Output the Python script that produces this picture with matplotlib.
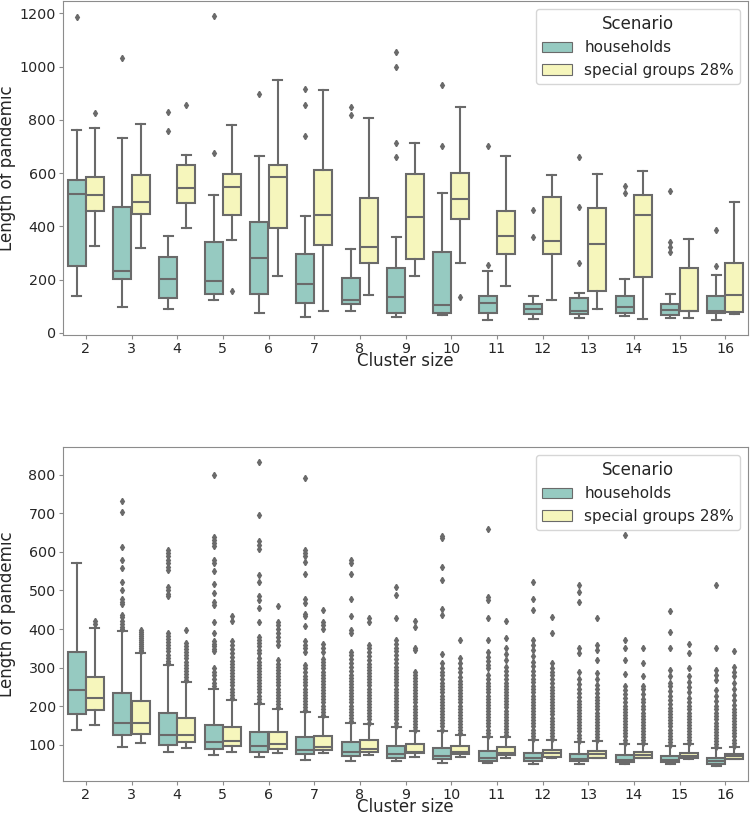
import colorsys
import matplotlib
matplotlib.use("Agg")
import matplotlib.pyplot as plt
import matplotlib.colors as mcolors
from matplotlib.patches import Patch

# ---------------- data ----------------
clusters = [2, 3, 4, 5, 6, 7, 8, 9, 10, 11, 12, 13, 14, 15, 16]
scenarios = ["households", "special groups 28%"]

# top panel -- households
top_hh_lo = [137, 96, 89, 122, 75, 59, 81, 61, 67, 49, 51, 55, 64, 55, 49]
top_hh_q1 = [252, 201, 130, 146, 147, 112, 107, 76, 74, 74, 71, 70, 76, 66, 76]
top_hh_med = [522, 232, 202, 195, 280, 184, 122, 136, 104, 112, 91, 82, 96, 85, 81]
top_hh_q3 = [574, 474, 285, 340, 415, 296, 207, 244, 302, 140, 107, 130, 137, 107, 137]
top_hh_hi = [760, 732, 364, 517, 664, 439, 316, 359, 526, 234, 140, 151, 202, 145, 217]
top_hh_fliers = [[1186], [1032], [829, 759], [1189, 676], [895], [917, 857, 741],
                 [847, 817], [1055, 997, 711, 661], [929, 702], [702, 255],
                 [460, 360], [662, 474, 261], [552, 527], [534, 342, 324, 305],
                 [386, 252]]

# top panel -- special groups 28%
top_sg_lo = [325, 317, 395, 350, 212, 81, 141, 215, 261, 175, 122, 89, 51, 57, 69]
top_sg_q1 = [456, 447, 487, 442, 392, 330, 261, 279, 429, 297, 295, 157, 209, 82, 77]
top_sg_med = [517, 491, 545, 547, 586, 442, 324, 436, 504, 364, 344, 335, 441, 83, 144]
top_sg_q3 = [584, 591, 632, 596, 630, 611, 507, 595, 602, 457, 510, 467, 517, 243, 261]
top_sg_hi = [770, 785, 666, 782, 949, 911, 806, 714, 847, 664, 591, 595, 607, 354, 492]
top_sg_fliers = [[826], [], [854], [157], [], [], [], [], [135], [], [], [], [], [], []]

# bottom panel -- households
bot_hh_lo = [139, 96, 81, 73, 69, 62, 59, 59, 54, 53, 52, 52, 52, 50, 46]
bot_hh_q1 = [181, 127, 100, 89, 83, 77, 72, 67, 64, 59, 59, 58, 55, 55, 52]
bot_hh_med = [242, 156, 126, 108, 97, 88, 81, 77, 72, 67, 67, 64, 62, 60, 58]
bot_hh_q3 = [341, 235, 182, 152, 133, 120, 108, 98, 92, 84, 79, 77, 73, 72, 67]
bot_hh_hi = [572, 396, 306, 245, 207, 185, 158, 147, 137, 120, 112, 108, 103, 97, 91]
bot_hh_fliers = [
    [],
    [731, 702, 612, 578, 558, 522, 500, 479, 471, 466, 437, 431, 422, 414, 405, 400],
    [605, 598, 590, 580, 570, 560, 553, 510, 500, 490, 485, 390, 382, 374, 366, 358,
     350, 342, 334, 326, 318, 312],
    [798, 638, 630, 622, 615, 578, 572, 551, 517, 493, 470, 463, 418, 390, 370, 362,
     355, 348, 342, 300, 290, 280, 270, 260, 252],
    [832, 694, 628, 618, 608, 540, 522, 485, 476, 454, 418, 212, 220, 228, 236, 244,
     252, 260, 268, 276, 284, 292, 300, 308, 316, 324, 338, 346, 355, 364, 372, 380],
    [790, 605, 598, 590, 573, 543, 478, 468, 440, 433, 407, 370, 360, 350, 340, 190,
     198, 206, 214, 222, 230, 238, 246, 254, 262, 270, 278, 290, 300, 308],
    [578, 572, 543, 478, 434, 398, 390, 162, 170, 178, 186, 194, 202, 210, 218, 226,
     234, 242, 250, 258, 266, 274, 282, 292, 302, 312, 322, 332, 340],
    [510, 489, 428, 150, 158, 166, 174, 182, 190, 198, 206, 214, 222, 230, 238, 246,
     254, 262, 270, 278, 286, 294, 302, 312, 322, 332, 342, 352, 362, 372],
    [642, 636, 560, 528, 452, 437, 336, 140, 148, 156, 164, 172, 180, 188, 196, 204,
     212, 220, 228, 236, 244, 252, 260, 270, 280, 290, 300, 312],
    [660, 484, 476, 429, 372, 124, 132, 140, 148, 156, 164, 172, 180, 188, 196, 204,
     212, 220, 228, 236, 244, 252, 260, 270, 280, 298, 308, 318, 328, 340],
    [521, 478, 450, 116, 124, 132, 140, 148, 156, 164, 172, 180, 188, 196, 204, 212,
     220, 228, 236, 244, 252, 262, 272, 282, 292, 305, 315, 330, 345, 360, 372],
    [515, 497, 470, 351, 338, 288, 111, 119, 127, 135, 143, 151, 159, 167, 175, 183,
     191, 199, 207, 215, 225, 235, 245, 258, 270],
    [644, 372, 351, 321, 284, 106, 114, 122, 130, 138, 146, 154, 162, 170, 178, 186,
     194, 202, 212, 222, 232, 242, 252],
    [447, 392, 350, 295, 278, 100, 108, 116, 124, 132, 140, 148, 156, 164, 172, 180,
     188, 196, 206, 216, 228, 240, 252, 260],
    [515, 350, 295, 282, 269, 94, 102, 110, 118, 126, 134, 142, 150, 158, 166, 174,
     182, 192, 202, 214, 228, 243],
]

# bottom panel -- special groups 28%
bot_sg_lo = [152, 104, 91, 83, 78, 78, 74, 70, 68, 67, 66, 66, 65, 64, 63]
bot_sg_q1 = [190, 129, 107, 97, 89, 86, 83, 79, 77, 73, 69, 67, 67, 65, 64]
bot_sg_med = [222, 156, 126, 111, 103, 96, 90, 83, 82, 79, 79, 77, 75, 72, 72]
bot_sg_q3 = [276, 213, 171, 146, 133, 122, 113, 102, 98, 95, 88, 85, 82, 80, 77]
bot_sg_hi = [402, 337, 262, 217, 193, 173, 154, 135, 126, 121, 112, 110, 102, 102, 96]
bot_sg_fliers = [
    [412, 420],
    [342, 347, 352, 357, 362, 367, 372, 377, 382, 387, 392, 397],
    [268, 276, 284, 292, 300, 308, 316, 324, 332, 340, 348, 356, 364, 397],
    [222, 230, 238, 246, 254, 262, 270, 278, 286, 294, 302, 310, 318, 328, 338, 348,
     358, 368, 420, 433],
    [198, 206, 214, 222, 230, 238, 246, 254, 262, 270, 278, 286, 294, 302, 310, 320,
     360, 370, 380, 390, 400, 410, 418, 461],
    [178, 186, 194, 202, 210, 218, 226, 234, 242, 250, 258, 266, 274, 282, 290, 298,
     306, 314, 322, 340, 350, 362, 400, 410, 418, 450],
    [158, 166, 174, 182, 190, 198, 206, 214, 222, 230, 238, 246, 254, 262, 270, 278,
     286, 294, 302, 310, 320, 330, 340, 350, 360, 418, 428],
    [138, 146, 154, 162, 170, 178, 186, 194, 202, 210, 218, 226, 234, 242, 250, 258,
     266, 274, 282, 290, 347, 351, 405, 420],
    [130, 138, 146, 154, 162, 170, 178, 186, 194, 202, 210, 218, 226, 234, 242, 250,
     258, 266, 276, 288, 300, 312, 325, 372],
    [125, 133, 141, 149, 157, 165, 173, 181, 189, 197, 205, 213, 221, 229, 237, 245,
     253, 261, 270, 280, 292, 303, 321, 335, 351, 377, 421],
    [115, 123, 131, 139, 147, 155, 163, 171, 179, 187, 195, 203, 211, 219, 227, 235,
     243, 251, 260, 270, 280, 290, 300, 312, 390, 431],
    [112, 120, 128, 136, 144, 152, 160, 168, 176, 184, 192, 200, 208, 216, 224, 234,
     244, 256, 270, 286, 321, 347, 358, 428],
    [104, 112, 120, 128, 136, 144, 152, 160, 168, 176, 184, 192, 200, 210, 220, 232,
     244, 252, 279, 312, 351],
    [104, 112, 120, 128, 136, 144, 152, 160, 168, 176, 184, 192, 200, 210, 222, 236,
     250, 264, 278, 299, 338, 361],
    [98, 106, 114, 122, 130, 138, 146, 154, 162, 170, 178, 186, 194, 204, 216, 230,
     244, 260, 278, 290, 303, 342],
]

top_yticks = [0, 200, 400, 600, 800, 1000, 1200]
bot_yticks = [100, 200, 300, 400, 500, 600, 700, 800]

# ---------------- style ----------------
base_colors = ["#8dd3c7", "#ffffb3"]


def desat(c, prop=0.75):
    r, g, b = mcolors.to_rgb(c)
    h, l, s = colorsys.rgb_to_hls(r, g, b)
    return colorsys.hls_to_rgb(h, l, s * prop)


colors = [desat(c) for c in base_colors]
lum = min(colorsys.rgb_to_hls(*c)[1] for c in colors) * 0.6
gray = (lum, lum, lum)
text_color = "#262626"
spine_color = "#8c8c8c"

plt.rcParams["font.family"] = ["DejaVu Sans"]

FIG_W, FIG_H = 750, 816
AX_H_PX = 334


def make_stats(lo, q1, med, q3, hi, fl):
    return [dict(whislo=lo[i], q1=q1[i], med=med[i], q3=q3[i], whishi=hi[i],
                 fliers=fl[i]) for i in range(len(lo))]


def draw_panel(ax, groups, yticks):
    n = len(groups)
    for k, (stats, col) in enumerate(zip(groups, colors)):
        offset = (k - (n - 1) / 2) * 0.4
        pos = [i + offset for i in range(len(clusters))]
        ax.bxp(stats, positions=pos, widths=0.392, patch_artist=True,
               boxprops=dict(facecolor=col, edgecolor=gray, linewidth=1.5),
               medianprops=dict(color=gray, linewidth=1.5),
               whiskerprops=dict(color=gray, linewidth=1.5),
               capprops=dict(color=gray, linewidth=1.5),
               flierprops=dict(marker="d", markersize=3.2, markerfacecolor=gray,
                               markeredgecolor=gray, linestyle="none"),
               manage_ticks=False)
    ax.set_xlim(-0.5, len(clusters) - 0.5)
    ax.set_xticks(range(len(clusters)))
    ax.set_xticklabels([str(c) for c in clusters])
    ax.set_yticks(yticks)
    ax.autoscale(axis="y")
    ax.margins(y=0.05)
    ax.set_xlabel("Cluster size", fontsize=12, color=text_color)
    ax.xaxis.set_label_coords(0.5, -31 / AX_H_PX)
    ax.xaxis.label.set_va("baseline")
    ax.set_ylabel("Length of pandemic", fontsize=12, color=text_color)
    ax.yaxis.set_label_coords(-0.068, 0.5)
    ax.tick_params(labelsize=10.3, colors=spine_color, labelcolor=text_color,
                   length=3.2, pad=2)
    for sp in ax.spines.values():
        sp.set_color(spine_color)
    handles = [Patch(facecolor=colors[i], edgecolor=gray, linewidth=0.8,
                     label=scenarios[i]) for i in range(2)]
    leg = ax.legend(handles=handles, title="Scenario", loc="upper right",
                    fontsize=11, title_fontsize=12)
    for t in leg.get_texts():
        t.set_color(text_color)
    leg.get_title().set_color(text_color)


fig = plt.figure(figsize=(FIG_W / 100, FIG_H / 100), dpi=100)
ax1 = fig.add_axes([63 / FIG_W, 1 - 335 / FIG_H, 685 / FIG_W, AX_H_PX / FIG_H])
ax2 = fig.add_axes([63 / FIG_W, 1 - 781 / FIG_H, 685 / FIG_W, AX_H_PX / FIG_H])

draw_panel(ax1, [make_stats(top_hh_lo, top_hh_q1, top_hh_med, top_hh_q3, top_hh_hi, top_hh_fliers),
                 make_stats(top_sg_lo, top_sg_q1, top_sg_med, top_sg_q3, top_sg_hi, top_sg_fliers)],
           top_yticks)
draw_panel(ax2, [make_stats(bot_hh_lo, bot_hh_q1, bot_hh_med, bot_hh_q3, bot_hh_hi, bot_hh_fliers),
                 make_stats(bot_sg_lo, bot_sg_q1, bot_sg_med, bot_sg_q3, bot_sg_hi, bot_sg_fliers)],
           bot_yticks)

fig.savefig("out.png", dpi=100)
